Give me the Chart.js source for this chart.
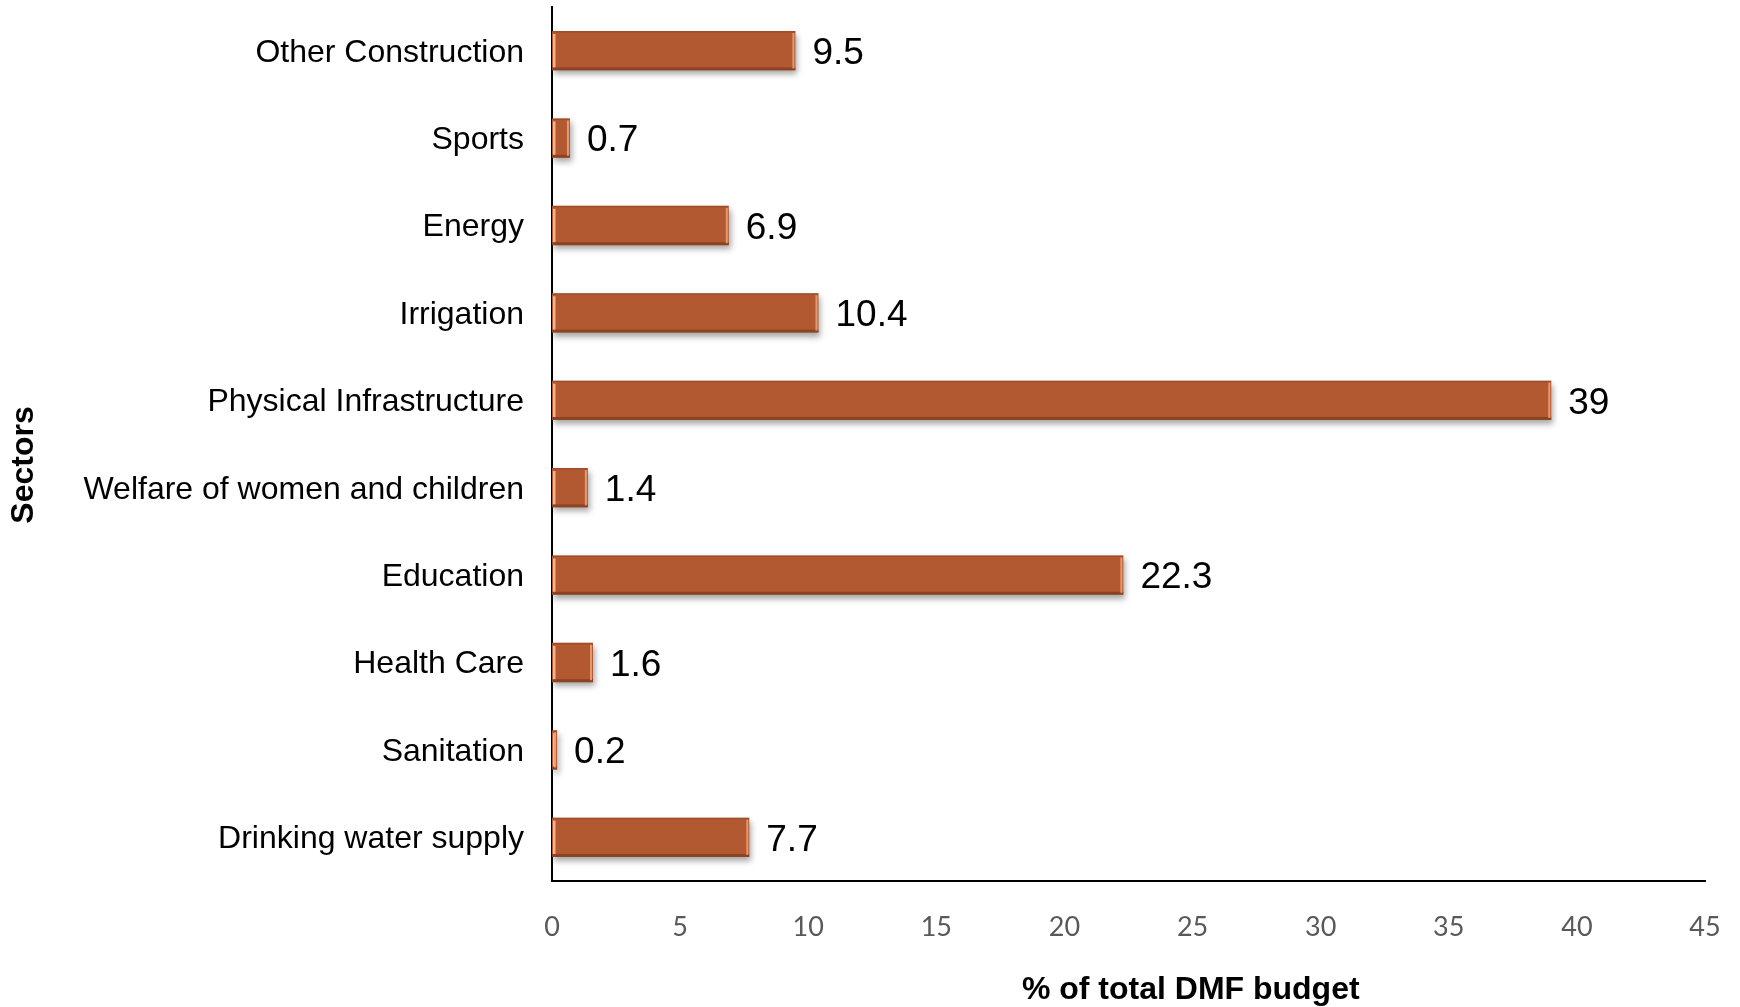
<!DOCTYPE html>
<html>
<head>
<meta charset="utf-8">
<script src="https://cdn.jsdelivr.net/npm/chart.js@4/dist/chart.umd.min.js"></script>
<style>
html,body{margin:0;padding:0;background:#fff;}
#wrap{width:1740px;height:1007px;position:relative;}
</style>
</head>
<body>
<div id="wrap"><canvas id="c" width="1740" height="1007"></canvas></div>
<script>
const categories = ["Other Construction","Sports","Energy","Irrigation","Physical Infrastructure","Welfare of women and children","Education","Health Care","Sanitation","Drinking water supply"];
const values = [9.5, 0.7, 6.9, 10.4, 39, 1.4, 22.3, 1.6, 0.2, 7.7];
const xTicks = [0,5,10,15,20,25,30,35,40,45];
const xTitle = "% of total DMF budget";
const yTitle = "Sectors";

const barColor = '#B25931';

const bevelPlugin = {
  id: 'bevel',
  beforeDatasetDraw(chart) {
    const ctx = chart.ctx;
    ctx.save();
    ctx.shadowColor = 'rgba(0,0,0,0.35)';
    ctx.shadowBlur = 6;
    ctx.shadowOffsetX = 2;
    ctx.shadowOffsetY = 4;
  },
  afterDatasetDraw(chart) {
    const ctx = chart.ctx;
    ctx.restore();
    const meta = chart.getDatasetMeta(0);
    ctx.save();
    meta.data.forEach(el => {
      const x0 = el.base, x1 = el.x, h = el.height, top = el.y - h/2, bot = el.y + h/2;
      const w = x1 - x0;
      ctx.fillStyle = 'rgba(110,50,20,0.55)';
      ctx.fillRect(x0, bot - 3, w, 3);
      ctx.fillStyle = 'rgba(120,55,25,0.35)';
      ctx.fillRect(x0, top, w, 1.5);
      if (w > 4) {
        ctx.fillStyle = '#F4B48C';
        ctx.fillRect(x0 + 1, top + 3, 2.5, h - 6);
      }
      ctx.fillStyle = 'rgba(235,160,120,0.9)';
      ctx.fillRect(x1 - 3, top + 2, 2, h - 4);
    });
    ctx.restore();
  }
};

const labelPlugin = {
  id: 'valueLabels',
  afterDatasetsDraw(chart) {
    const ctx = chart.ctx;
    const meta = chart.getDatasetMeta(0);
    ctx.save();
    ctx.font = '37px "Liberation Sans", Arial, sans-serif';
    ctx.fillStyle = '#000';
    ctx.textAlign = 'left';
    ctx.textBaseline = 'middle';
    meta.data.forEach((el, i) => {
      ctx.fillText(String(values[i]), el.x + 17, el.y + 3);
    });
    ctx.restore();
  }
};

const axisTitlePlugin = {
  id: 'axisTitles',
  afterDraw(chart) {
    const ctx = chart.ctx;
    const ca = chart.chartArea;
    ctx.save();
    ctx.fillStyle = '#000';
    ctx.font = 'bold 32px "Liberation Sans", Arial, sans-serif';
    ctx.textAlign = 'center';
    ctx.textBaseline = 'middle';
    ctx.fillText(xTitle, ca.left + (ca.right - ca.left) * 0.554, 990);
    ctx.translate(24, ca.top + (ca.bottom - ca.top) * 0.524);
    ctx.rotate(-Math.PI/2);
    ctx.fillText(yTitle, 0, 0);
    ctx.restore();
  }
};

new Chart(document.getElementById('c'), {
  type: 'bar',
  data: {
    labels: categories,
    datasets: [{
      data: values,
      backgroundColor: barColor,
      borderWidth: 0,
      barPercentage: 0.9,
      categoryPercentage: 0.5
    }]
  },
  options: {
    indexAxis: 'y',
    responsive: false,
    animation: false,
    devicePixelRatio: 1,
    layout: { padding: { top: 7, right: 35, left: 0, bottom: 0 } },
    plugins: { legend: { display: false }, tooltip: { enabled: false }, title: { display: false } },
    scales: {
      x: {
        min: 0, max: 45,
        afterBuildTicks(s) { s.ticks = xTicks.map(v => ({ value: v })); },
        afterFit(s) { s.height = 126; s.paddingLeft = 0; s.paddingRight = 0; s.paddingTop = 0; s.paddingBottom = 0; },
        grid: { display: false, drawTicks: false },
        border: { display: true, color: '#000', width: 2 },
        ticks: { color: '#595959', font: { family: 'Lato, "DejaVu Sans", sans-serif', size: 27 }, padding: 30, maxRotation: 0 }
      },
      y: {
        afterFit(s) { s.width = 552; s.paddingTop = 0; s.paddingBottom = 0; s.paddingLeft = 0; s.paddingRight = 0; },
        grid: { display: false, drawTicks: false },
        border: { display: true, color: '#000', width: 2 },
        ticks: { color: '#000', font: { family: '"Liberation Sans", Arial, sans-serif', size: 32 }, padding: 28, labelOffset: 2, autoSkip: false }
      }
    }
  },
  plugins: [bevelPlugin, labelPlugin, axisTitlePlugin]
});
</script>
</body>
</html>
